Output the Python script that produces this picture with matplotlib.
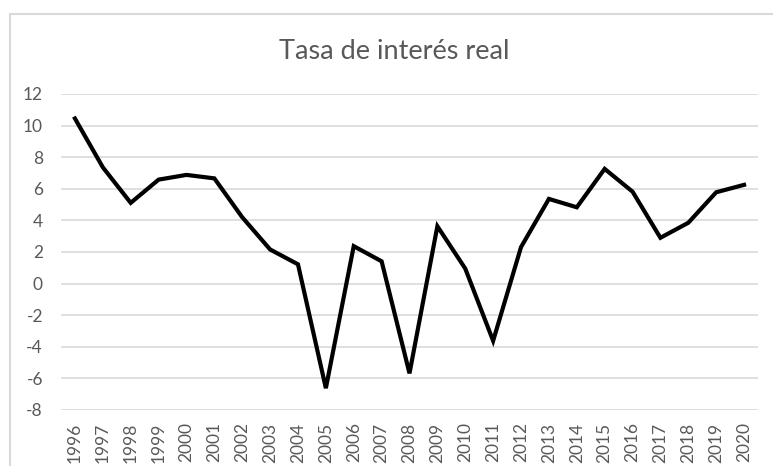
import numpy as np
import matplotlib.pyplot as plt
from matplotlib.patches import Rectangle

plt.rcParams['font.family'] = ['Lato', 'DejaVu Sans']

years = [str(y) for y in range(1996, 2021)]
tasa_real = [10.45, 7.36, 5.11, 6.58, 6.88, 6.66, 4.2, 2.16, 1.22, -6.62,
             2.37, 1.41, -5.68, 3.63, 0.95, -3.62, 2.31, 5.36, 4.83, 7.26,
             5.82, 2.9, 3.85, 5.78, 6.25]
yticks = list(range(-8, 13, 2))

grey_text = '#595959'
grid_col = '#d9d9d9'

fig = plt.figure(figsize=(7.73, 4.66), dpi=100)
ax = fig.add_axes([61/773, 1 - 410/466, (758 - 61)/773, (410 - 94)/466])

# chart border (cropped on right and bottom like the reference)
fig.patches.append(Rectangle((10/773, -0.1), 1.0, 1 - 14/466 + 0.1,
                             transform=fig.transFigure, fill=False,
                             edgecolor=grid_col, linewidth=1.5))

x = np.arange(len(years))
ax.plot(x, tasa_real, color='black', linewidth=3, solid_joinstyle='miter', zorder=3)

ax.set_xlim(-0.5, len(years) - 0.5)
ax.set_ylim(-8, 12)
ax.set_yticks(yticks)
ax.set_yticklabels([str(v) for v in yticks])
ax.set_xticks(x)
ax.set_xticklabels(years, rotation=90)
ax.yaxis.grid(True, color=grid_col, linewidth=1.2)
ax.set_axisbelow(True)
for s in ax.spines.values():
    s.set_visible(False)
ax.tick_params(axis='both', length=0, labelsize=12.5, colors=grey_text)
ax.tick_params(axis='y', pad=13)
ax.tick_params(axis='x', pad=9)

fig.text(394.5/773, 1 - 59/466, 'Tasa de interés real', ha='center', va='baseline',
         fontsize=19.5, color=grey_text)

fig.savefig('out.png', dpi=100)
